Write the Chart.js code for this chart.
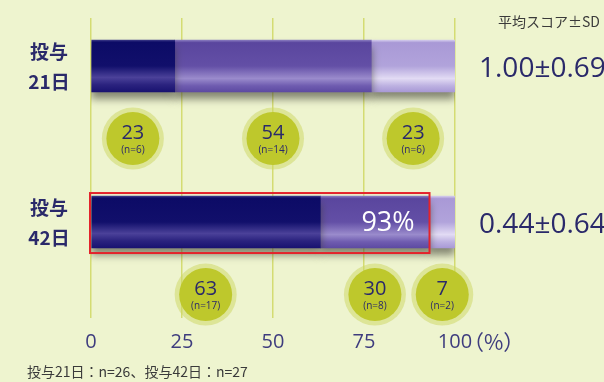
<!DOCTYPE html>
<html>
<head>
<meta charset="utf-8">
<script src="https://cdn.jsdelivr.net/npm/chart.js@4.4.1/dist/chart.umd.min.js"></script>
<style>
  html, body { margin: 0; padding: 0; background: #eef4cf; }
  #wrap { width: 604px; height: 382px; position: relative; }
</style>
</head>
<body>
<div id="wrap"><canvas id="myChart" width="604" height="382"></canvas></div>
<script>
// rows (two lines each) and score per row
var rowLabels = [['投与', '21日'], ['投与', '42日']];
var meanScores = ['1.00±0.69', '0.44±0.64'];

// percent of patients per score group, row order: 21日, 42日
var grp1 = [23, 63];
var grp2 = [54, 30];
var grp3 = [23, 7];
var grp1N = [6, 17];
var grp2N = [14, 8];
var grp3N = [6, 2];

var xTicks = ['0', '25', '50', '75', '100'];

var FONT = "'Open Sans', 'Noto Sans CJK JP', sans-serif";
var JFONT = "'Noto Sans CJK JP', sans-serif";
var NAVY = '#2a296a';

function toPoints(arr){
	return arr.map(function(v, i){ return {x: v, y: i}; });
}

// vertical shading for each bar segment
function shade(stops){
	return function(c){
		var chart = c.chart;
		if(!chart.chartArea || !chart.scales.y) return stops[0][1];
		var yc = chart.scales.y.getPixelForValue(c.dataIndex);
		var g = chart.ctx.createLinearGradient(0, yc - 26, 0, yc + 26);
		for(var i=0; i<stops.length; i++){
			g.addColorStop(stops[i][0], stops[i][1]);
		}
		return g;
	}
}

var darkStops = [[0, '#3c3a88'], [0.04, '#0c0b66'], [0.5, '#110f6b'], [0.72, '#4b4199'], [0.86, '#2b237f'], [1, '#191270']];
var midStops = [[0, '#8a7cc0'], [0.05, '#5a469e'], [0.5, '#634fa6'], [0.74, '#9a8bcc'], [0.88, '#6f5cb0'], [1, '#5d4aa2']];
var lightStops = [[0, '#d4cced'], [0.05, '#a999d6'], [0.5, '#b1a3db'], [0.74, '#e2dbf4'], [0.88, '#bdb1e1'], [1, '#a899d6']];

var series = [grp1, grp2, grp3];
var seriesN = [grp1N, grp2N, grp3N];

var shadowPlugin = {
	id: 'shadow',
	beforeDatasetsDraw: function(chart){
		var ctx = chart.ctx;
		ctx.save();
		ctx.shadowColor = 'rgba(60,60,50,0.6)';
		ctx.shadowBlur = 8;
		ctx.shadowOffsetY = 7;
	},
	afterDatasetsDraw: function(chart){
		chart.ctx.restore();
	}
};

var decoPlugin = {
	id: 'deco',
	afterDraw: function(chart){
		var ctx = chart.ctx;
		var xs = chart.scales.x, ys = chart.scales.y;
		ctx.save();

		// row labels on the left
		ctx.fillStyle = NAVY;
		ctx.font = 'bold 19px ' + JFONT;
		ctx.textAlign = 'center';
		ctx.textBaseline = 'middle';
		for(var i=0; i<rowLabels.length; i++){
			var yc = ys.getPixelForValue(i);
			ctx.fillText(rowLabels[i][0], 49, yc - 14);
			ctx.fillText(rowLabels[i][1], 49, yc + 16);
		}

		// mean score on the right
		ctx.textAlign = 'left';
		ctx.font = '28px ' + FONT;
		for(var i=0; i<meanScores.length; i++){
			ctx.fillText(meanScores[i], 479, ys.getPixelForValue(i) + 3);
		}
		ctx.fillStyle = '#3a3a3a';
		ctx.font = '14px ' + JFONT;
		ctx.fillText('平均スコア±SD', 498, 22);

		// footnote
		ctx.fillText('投与21日：n=26、投与42日：n=27', 27, 372);

		// unit after the last tick
		ctx.fillStyle = '#3e3c7e';
		ctx.font = '21px ' + JFONT;
		ctx.fillText('（%）', 463, 342);

		// bubbles under each segment
		for(var i=0; i<rowLabels.length; i++){
			var start = 0;
			var by = ys.getPixelForValue(i + 0.465);
			for(var s=0; s<series.length; s++){
				var v = series[s][i];
				var bx = xs.getPixelForValue(start + v / 2);
				start += v;
				ctx.beginPath();
				ctx.arc(bx, by, 31, 0, Math.PI * 2);
				ctx.fillStyle = 'rgba(204,214,96,0.5)';
				ctx.fill();
				ctx.beginPath();
				ctx.arc(bx, by, 26.5, 0, Math.PI * 2);
				ctx.fillStyle = '#bec82c';
				ctx.fill();
				ctx.fillStyle = NAVY;
				ctx.textAlign = 'center';
				ctx.font = '20px ' + FONT;
				ctx.fillText(String(v), bx, by - 5);
				ctx.font = '10px ' + FONT;
				ctx.fillText('(n=' + seriesN[s][i] + ')', bx, by + 12);
			}
		}

		// highlight box on the 42日 row
		var y2 = ys.getPixelForValue(1);
		var upTo = grp1[1] + grp2[1];
		ctx.strokeStyle = '#e3232b';
		ctx.lineWidth = 2;
		ctx.strokeRect(xs.getPixelForValue(0) - 1, y2 - 29, xs.getPixelForValue(upTo) - xs.getPixelForValue(0) + 1, 60);
		ctx.fillStyle = '#ffffff';
		ctx.font = '27px ' + FONT;
		ctx.textAlign = 'center';
		ctx.fillText(upTo + '%', 388, y2 + 1);

		ctx.restore();
	}
};

var ctx = document.getElementById('myChart');
var chart = new Chart(ctx, {
	type: 'bar',
	data: {
		datasets: [{
			label: 'grp1',
			data: toPoints(grp1),
			backgroundColor: shade(darkStops),
			barThickness: 52
		}, {
			label: 'grp2',
			data: toPoints(grp2),
			backgroundColor: shade(midStops),
			barThickness: 52
		}, {
			label: 'grp3',
			data: toPoints(grp3),
			backgroundColor: shade(lightStops),
			barThickness: 52
		}]
	},
	options: {
		indexAxis: 'y',
		responsive: false,
		animation: false,
		layout: {
			padding: {left: 91, right: 149, top: 18, bottom: 16}
		},
		plugins: {
			legend: {display: false},
			tooltip: {enabled: false}
		},
		scales: {
			x: {
				type: 'linear',
				stacked: true,
				min: 0,
				max: 100,
				border: {display: false},
				grid: {color: '#d4dc72', lineWidth: 1.5, drawTicks: false},
				ticks: {
					stepSize: 25,
					padding: 12,
					color: '#3e3c7e',
					font: {family: FONT, size: 20},
					callback: function(value){
						return xTicks[value / 25];
					}
				}
			},
			y: {
				type: 'linear',
				stacked: true,
				reverse: true,
				offset: false,
				bounds: 'data',
				min: -0.3077,
				max: 1.615,
				display: false
			}
		}
	},
	plugins: [shadowPlugin, decoPlugin]
});
</script>
</body>
</html>
